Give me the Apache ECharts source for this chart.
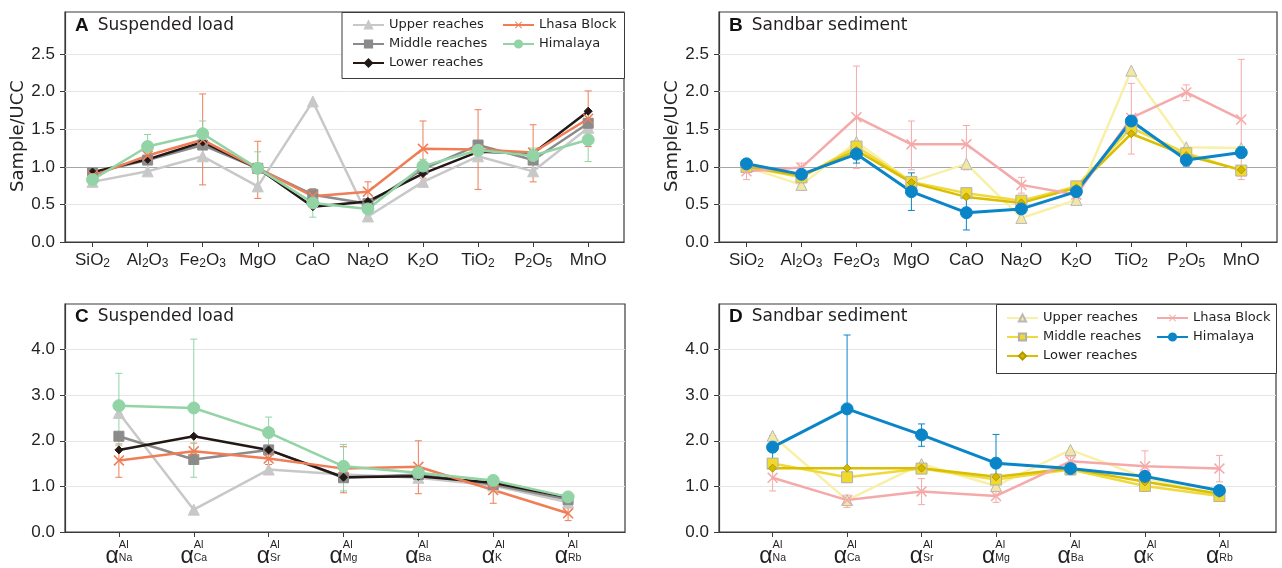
<!DOCTYPE html>
<html lang="en">
<head>
<meta charset="UTF-8">
<title>Sample/UCC</title>
<script src="https://cdn.jsdelivr.net/npm/echarts@6/dist/echarts.min.js"></script>
<style>html,body{margin:0;padding:0;background:#fff}#main{width:1282px;height:568px}</style>
</head>
<body>
<div id="main"></div>
<script>
var oxides = ['SiO2', 'Al2O3', 'Fe2O3', 'MgO', 'CaO', 'Na2O', 'K2O', 'TiO2', 'P2O5', 'MnO']
var alphas = ['Na', 'Ca', 'Sr', 'Mg', 'Ba', 'K', 'Rb']
var yTicksTop = [0, 0.5, 1, 1.5, 2, 2.5]
var yTicksBottom = [0, 1, 2, 3, 4]

// A  suspended load, Sample/UCC
var aUpper = [0.80, 0.94, 1.14, 0.74, 1.87, 0.34, 0.80, 1.14, 0.94, 1.52]
var aMiddle = [0.92, 1.09, 1.29, 0.98, 0.63, 0.51, 0.97, 1.29, 1.09, 1.58]
var aLower = [0.93, 1.10, 1.33, 0.98, 0.47, 0.54, 0.91, 1.20, 1.18, 1.74]
var aLhasa = [0.88, 1.15, 1.36, 0.98, 0.61, 0.67, 1.24, 1.23, 1.19, 1.64]
var aHim = [0.83, 1.27, 1.44, 0.98, 0.52, 0.44, 1.01, 1.22, 1.15, 1.36]
var aLhasaLo = [0.78, 1.06, 0.76, 0.58, 0.56, 0.51, 0.85, 0.70, 0.80, 1.27]
var aLhasaHi = [0.96, 1.22, 1.97, 1.34, 0.71, 0.80, 1.61, 1.76, 1.56, 2.01]
var aHimLo = [0.78, 1.14, 1.27, 0.74, 0.33, 0.40, 0.92, 1.15, 1.05, 1.07]
var aHimHi = [0.88, 1.43, 1.61, 1.20, 0.70, 0.48, 1.10, 1.30, 1.25, 1.62]

// B  sandbar sediment, Sample/UCC
var bUpper = [1.00, 0.76, 1.33, 0.80, 1.04, 0.32, 0.56, 2.28, 1.26, 1.25]
var bMiddle = [1.00, 0.86, 1.27, 0.80, 0.65, 0.55, 0.74, 1.52, 1.18, 0.95]
var bLower = [1.00, 0.88, 1.22, 0.79, 0.60, 0.52, 0.72, 1.44, 1.15, 0.96]
var bLhasa = [0.94, 0.99, 1.66, 1.30, 1.30, 0.76, 0.63, 1.65, 1.99, 1.63]
var bHim = [1.04, 0.90, 1.17, 0.67, 0.39, 0.44, 0.67, 1.61, 1.09, 1.19]
var bLhasaLo = [0.83, 0.96, 0.98, 0.96, 0.96, 0.65, 0.58, 1.17, 1.88, 0.83]
var bLhasaHi = [1.05, 1.05, 2.34, 1.61, 1.55, 0.86, 0.68, 2.11, 2.09, 2.43]
var bHimLo = [1.00, 0.85, 1.05, 0.42, 0.16, 0.38, 0.62, 1.55, 1.01, 1.12]
var bHimHi = [1.08, 0.95, 1.27, 0.92, 0.60, 0.50, 0.72, 1.66, 1.16, 1.27]

// C  suspended load, alpha Al
var cUpper = [2.61, 0.49, 1.37, 1.26, 1.19, 1.02, 0.65]
var cMiddle = [2.10, 1.59, 1.80, 1.19, 1.26, 1.04, 0.71]
var cLower = [1.80, 2.10, 1.80, 1.20, 1.22, 1.08, 0.76]
var cLhasa = [1.57, 1.77, 1.61, 1.39, 1.43, 0.92, 0.41]
var cHim = [2.77, 2.72, 2.18, 1.44, 1.30, 1.13, 0.77]
var cLhasaLo = [1.20, 1.60, 1.48, 0.86, 0.84, 0.63, 0.25]
var cLhasaHi = [1.93, 1.95, 1.77, 1.87, 2.00, 1.04, 0.53]
var cHimLo = [1.89, 1.20, 1.87, 0.90, 1.22, 1.08, 0.68]
var cHimHi = [3.48, 4.23, 2.52, 1.92, 1.38, 1.18, 0.86]

// D  sandbar sediment, alpha Al
var dUpper = [2.11, 0.70, 1.49, 1.01, 1.80, 1.19, 0.79]
var dMiddle = [1.50, 1.20, 1.39, 1.15, 1.37, 1.01, 0.79]
var dLower = [1.40, 1.40, 1.40, 1.21, 1.39, 1.10, 0.84]
var dLhasa = [1.19, 0.70, 0.89, 0.79, 1.55, 1.44, 1.39]
var dHim = [1.86, 2.70, 2.13, 1.51, 1.39, 1.22, 0.91]
var dLhasaLo = [0.90, 0.54, 0.60, 0.65, 1.45, 1.13, 1.10]
var dLhasaHi = [1.48, 0.81, 1.17, 0.92, 1.65, 1.78, 1.68]
var dHimLo = [1.55, 1.10, 1.88, 0.90, 1.33, 1.15, 0.86]
var dHimHi = [2.11, 4.32, 2.37, 2.14, 1.45, 1.29, 0.96]

var chart = echarts.init(document.getElementById('main'))

var TXT = '#231f20'
var FRAME = '#3a3a3a'
var xPath = 'path://M0,1L1,0L5,4L9,0L10,1L6,5L10,9L9,10L5,6L1,10L0,9L4,5Z'

// styles: suspended load (A, C) and sandbar (B, D)
var susp = {
  up: { line: '#c8c8c8', fill: '#c8c8c8', border: '#c8c8c8', bw: 1, symbol: 'triangle', size: 11, w: 2.5 },
  mid: { line: '#8b8b8b', fill: '#8b8b8b', border: '#8b8b8b', bw: 1, symbol: 'rect', size: 10, w: 2.5 },
  low: { line: '#231815', fill: '#231815', border: '#231815', bw: 1, symbol: 'diamond', size: 8, w: 2.5 },
  lh: { line: '#ef7d56', fill: '#ef7d56', border: '#ef7d56', bw: 0, symbol: xPath, size: 11, w: 2.5 },
  him: { line: '#92d4a5', fill: '#92d4a5', border: '#92d4a5', bw: 1, symbol: 'circle', size: 12, w: 2.5 }
}
var sand = {
  up: { line: '#f9f0a8', fill: '#f3e7a6', border: '#b8b8b8', bw: 1, symbol: 'triangle', size: 11, w: 2.5 },
  mid: { line: '#f0d93c', fill: '#f0d82e', border: '#b0b0b0', bw: 1, symbol: 'rect', size: 11, w: 2.5 },
  low: { line: '#d9bf00', fill: '#d4b800', border: '#b09a00', bw: 1, symbol: 'diamond', size: 8, w: 2.5 },
  lh: { line: '#f5aaaa', fill: '#f5aaaa', border: '#f5aaaa', bw: 0, symbol: xPath, size: 11, w: 2.5 },
  him: { line: '#0a86c8', fill: '#0a86c8', border: '#0a86c8', bw: 1, symbol: 'circle', size: 12, w: 3 }
}

function lineSeries(name, vals, st, gi) {
  return {
    type: 'line', name: name, xAxisIndex: gi, yAxisIndex: gi,
    data: vals.map(function (v, i) { return [i, v] }),
    symbol: st.symbol, symbolSize: st.size,
    lineStyle: { color: st.line, width: st.w },
    itemStyle: { color: st.fill, borderColor: st.border, borderWidth: st.bw },
    emphasis: { disabled: true }, animation: false
  }
}

function errSeries(lo, hi, color, gi) {
  var data = []
  lo.forEach(function (l, i) { if (l != null) data.push([i, l, hi[i]]) })
  return {
    type: 'custom', xAxisIndex: gi, yAxisIndex: gi, data: data, z: 1, silent: true,
    encode: { x: 0, y: [1, 2] }, animation: false,
    renderItem: function (params, api) {
      var x = api.value(0)
      var p1 = api.coord([x, api.value(1)])
      var p2 = api.coord([x, api.value(2)])
      var w = 3.5
      var st = { stroke: color, lineWidth: 1 }
      return {
        type: 'group', children: [
          { type: 'line', shape: { x1: p1[0], y1: p1[1], x2: p2[0], y2: p2[1] }, style: st },
          { type: 'line', shape: { x1: p1[0] - w, y1: p1[1], x2: p1[0] + w, y2: p1[1] }, style: st },
          { type: 'line', shape: { x1: p2[0] - w, y1: p2[1], x2: p2[0] + w, y2: p2[1] }, style: st }
        ]
      }
    }
  }
}

// grid lines drawn as markLines so the 1.0 line can be darker
function gridLines(vals, darkAt, gi) {
  return {
    type: 'line', xAxisIndex: gi, yAxisIndex: gi, data: [], silent: true,
    markLine: {
      z: 1, silent: true, symbol: 'none', animation: false, label: { show: false },
      data: vals.map(function (v) {
        return { yAxis: v, lineStyle: { type: 'solid', width: 1, color: v === darkAt ? '#a6a6a6' : '#e6e6e6' } }
      })
    }
  }
}

function oxideLabel(v) {
  var n = oxides[Math.round(v)]
  return n.replace(/(\D+)/g, '{n|$1}').replace(/(\d)/g, '{s|$1}')
}
function alphaLabel(v) {
  var n = alphas[Math.round(v)]
  return '{ph|α}{sup|Al}\n{a|α}{sub|' + n + '}'
}

var grids = [
  { left: 65, top: 12, width: 559, height: 230 },
  { left: 719, top: 12, width: 558, height: 230 },
  { left: 65, top: 304, width: 560, height: 231 },
  { left: 719, top: 304, width: 557, height: 231 }
].map(function (g) {
  return Object.assign(g, { show: true, borderColor: FRAME, borderWidth: 1.2, backgroundColor: 'transparent' })
})

function xAxisOf(gi, oxide) {
  var n = oxide ? oxides.length : alphas.length
  var ticks = []
  for (var i = 0; i < n; i++) ticks.push(i)
  return {
    gridIndex: gi, type: 'value',
    min: oxide ? -0.5 : -0.72, max: oxide ? 9.65 : 6.76,
    axisLine: { show: true, onZero: false, lineStyle: { color: FRAME, width: 1.2 } },
    axisTick: { show: true, length: 5, customValues: ticks, lineStyle: { color: FRAME } },
    splitLine: { show: false },
    axisLabel: oxide ? {
      customValues: ticks, margin: 8, formatter: oxideLabel,
      rich: {
        n: { fontFamily: 'Liberation Sans', fontSize: 17, color: TXT, lineHeight: 20 },
        s: { fontFamily: 'Liberation Sans', fontSize: 12, color: TXT, lineHeight: 14, verticalAlign: 'bottom' }
      }
    } : {
      customValues: ticks, margin: 8, formatter: alphaLabel,
      rich: {
        ph: { fontFamily: 'Liberation Sans', fontSize: 23, color: 'rgba(0,0,0,0)', lineHeight: 9, align: 'left' },
        sup: { fontFamily: 'Liberation Sans', fontSize: 11, color: TXT, lineHeight: 9, align: 'left' },
        a: { fontFamily: 'Liberation Sans', fontSize: 23, color: TXT, lineHeight: 15, align: 'left' },
        sub: { fontFamily: 'Liberation Sans', fontSize: 10.5, color: TXT, lineHeight: 10, align: 'left', verticalAlign: 'bottom' }
      }
    }
  }
}

function yAxisOf(gi, top) {
  var ticks = top ? yTicksTop : yTicksBottom
  var ax = {
    gridIndex: gi, type: 'value', min: 0, max: top ? 3.06 : 5, interval: top ? 0.5 : 1,
    axisLine: { show: true, onZero: false, lineStyle: { color: FRAME, width: 1.2 } },
    axisTick: { show: true, length: 5, customValues: ticks, lineStyle: { color: FRAME } },
    splitLine: { show: false },
    axisLabel: {
      customValues: ticks, margin: 10, fontFamily: 'Liberation Sans', fontSize: 17, color: TXT,
      formatter: function (v) { return v.toFixed(1) }
    }
  }
  if (top) {
    ax.name = 'Sample/UCC'
    ax.nameLocation = 'middle'
    ax.nameGap = 38
    ax.nameTextStyle = { fontFamily: 'DejaVu Sans', fontSize: 18, color: TXT, padding: [0, 18, 0, 0] }
  }
  return ax
}

var names = ['Upper reaches', 'Middle reaches', 'Lower reaches', 'Lhasa Block', 'Himalaya']
// sandbar series get a trailing space so the legends pick their own styles
var sandNames = names.map(function (n) { return n + ' ' })

var series = []
series.push(gridLines([0.5, 1, 1.5, 2, 2.5], 1, 0))
series.push(gridLines([0.5, 1, 1.5, 2, 2.5], 1, 1))
series.push(gridLines([1, 2, 3, 4], null, 2))
series.push(gridLines([1, 2, 3, 4], null, 3))

series.push(errSeries(aLhasaLo, aLhasaHi, susp.lh.line, 0))
series.push(errSeries(aHimLo, aHimHi, susp.him.line, 0))
series.push(errSeries(bLhasaLo, bLhasaHi, sand.lh.line, 1))
series.push(errSeries(bHimLo, bHimHi, sand.him.line, 1))
series.push(errSeries(cLhasaLo, cLhasaHi, susp.lh.line, 2))
series.push(errSeries(cHimLo, cHimHi, susp.him.line, 2))
series.push(errSeries(dLhasaLo, dLhasaHi, sand.lh.line, 3))
series.push(errSeries(dHimLo, dHimHi, sand.him.line, 3))

var panels = [
  { gi: 0, st: susp, nm: names, vals: [aUpper, aMiddle, aLower, aLhasa, aHim] },
  { gi: 1, st: sand, nm: sandNames, vals: [bUpper, bMiddle, bLower, bLhasa, bHim] },
  { gi: 2, st: susp, nm: names, vals: [cUpper, cMiddle, cLower, cLhasa, cHim] },
  { gi: 3, st: sand, nm: sandNames, vals: [dUpper, dMiddle, dLower, dLhasa, dHim] }
]
var keys = ['up', 'mid', 'low', 'lh', 'him']
panels.forEach(function (p) {
  keys.forEach(function (k, i) {
    series.push(lineSeries(p.nm[i], p.vals[i], p.st[k], p.gi))
  })
})

function legendOf(data, left, top) {
  return {
    data: data, orient: 'vertical', left: left, top: top, padding: 0,
    itemWidth: 31, itemHeight: 9, itemGap: 5, selectedMode: false,
    formatter: function (n) { return n.trim() },
    textStyle: { fontFamily: 'DejaVu Sans', fontSize: 13, color: TXT, lineHeight: 14 }
  }
}

function titleOf(letter, text, left, top) {
  return {
    text: '{b|' + letter + '}{n|' + text + '}', left: left, top: top, padding: 0,
    textStyle: {
      rich: {
        b: { fontFamily: 'Liberation Sans', fontWeight: 'bold', fontSize: 19, color: '#111' },
        n: { fontFamily: 'DejaVu Sans', fontWeight: 'normal', fontSize: 17, color: TXT, padding: [0, 0, 0, 9] }
      }
    }
  }
}

chart.setOption({
  animation: false,
  backgroundColor: '#fff',
  title: [
    titleOf('A', 'Suspended load', 75, 16),
    titleOf('B', 'Sandbar sediment', 729, 16),
    titleOf('C', 'Suspended load', 75, 307),
    titleOf('D', 'Sandbar sediment', 729, 307)
  ],
  grid: grids,
  xAxis: [xAxisOf(0, true), xAxisOf(1, true), xAxisOf(2, false), xAxisOf(3, false)],
  yAxis: [yAxisOf(0, true), yAxisOf(1, true), yAxisOf(2, false), yAxisOf(3, false)],
  legend: [
    legendOf(names.slice(0, 3), 352, 18),
    legendOf(names.slice(3), 502, 18),
    legendOf(sandNames.slice(0, 3), 1006, 311),
    legendOf(sandNames.slice(3), 1156, 311)
  ],
  graphic: [
    { type: 'rect', left: 341.5, top: 12, z: 3, shape: { width: 282.5, height: 66 }, style: { fill: '#fff', stroke: FRAME, lineWidth: 1 } },
    { type: 'rect', left: 996, top: 304, z: 3, shape: { width: 280, height: 69 }, style: { fill: '#fff', stroke: FRAME, lineWidth: 1 } }
  ],
  series: series
})
</script>
</body>
</html>
